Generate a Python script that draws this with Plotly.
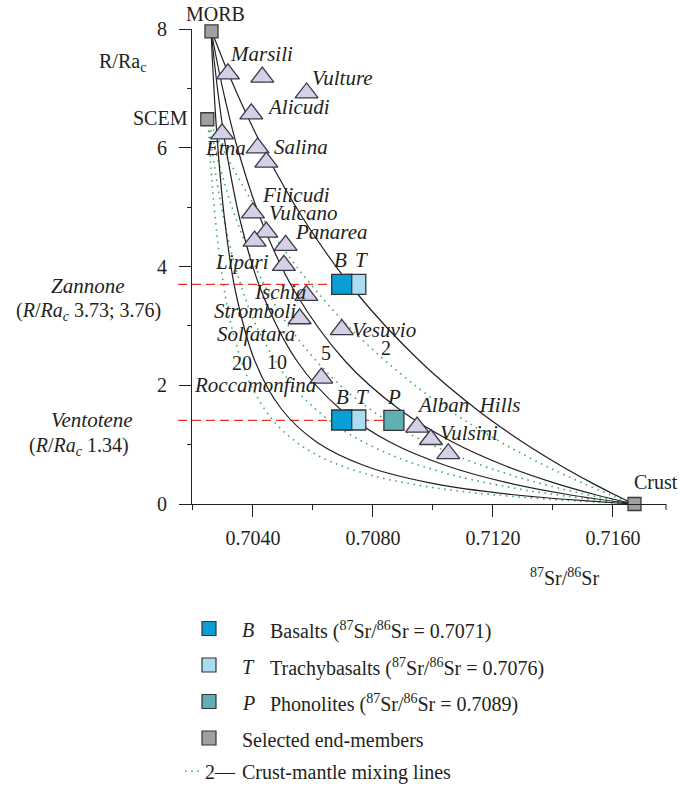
import plotly.graph_objects as go

# ---------------- data ----------------
endmember_names = ["MORB", "SCEM", "Crust"]
endmember_sr = [0.70262, 0.70248, 0.71672]
endmember_r = [7.96, 6.48, 0.0]

volcano_sr = [0.703167, 0.704313, 0.705790, 0.703947, 0.702973, 0.704157, 0.704447,
              0.704000, 0.704447, 0.704057, 0.705090, 0.705033, 0.705780, 0.705557,
              0.706963, 0.706280, 0.709473, 0.709933, 0.710513]
volcano_r = [7.244, 7.189, 6.923, 6.571, 6.234, 5.998, 5.758,
             4.902, 4.579, 4.428, 4.355, 4.019, 3.513, 3.120,
             2.938, 2.121, 1.296, 1.086, 0.847]

# Zannone (upper) and Ventotene (lower) rock samples
rock_type = ["T", "B", "T", "B", "P"]
rock_sr = [0.70743, 0.70696, 0.70743, 0.70696, 0.70870]
rock_r = [3.70, 3.70, 1.415, 1.415, 1.41]

mix_labels = ["2", "5", "10", "20"]
morb_mix_r = [8, 7.44, 6.8, 6.0, 4.8, 3.6, 2.4, 1.6, 1.04, 0.64, 0.36, 0.16, 0]
morb_mix_2 = [0.7026, 0.703032, 0.703573, 0.704332, 0.705684, 0.707383, 0.709579,
              0.711439, 0.713000, 0.714281, 0.715278, 0.716047, 0.7167]
morb_mix_5 = [0.7026, 0.702809, 0.703081, 0.703481, 0.704259, 0.705370, 0.707086,
              0.708867, 0.710670, 0.712427, 0.714011, 0.715394, 0.7167]
morb_mix_10 = [0.7026, 0.702716, 0.702868, 0.703099, 0.703563, 0.704271, 0.705480,
               0.706908, 0.708579, 0.710475, 0.712471, 0.714493, 0.7167]
morb_mix_20 = [0.7026, 0.702653, 0.702723, 0.702831, 0.703055, 0.703412, 0.704073,
               0.704950, 0.706135, 0.707748, 0.709859, 0.712613, 0.7167]
scem_mix_r = [6.5, 6.045, 5.525, 4.875, 3.9, 2.925, 1.95, 1.3, 0.845, 0.52, 0.2925, 0.13, 0]
scem_mix_2 = [0.7025, 0.702935, 0.703480, 0.704244, 0.705606, 0.707317, 0.709528,
              0.711402, 0.712974, 0.714264, 0.715268, 0.716042, 0.7167]
scem_mix_5 = [0.7025, 0.702711, 0.702984, 0.703387, 0.704171, 0.705289, 0.707018,
              0.708811, 0.710628, 0.712397, 0.713992, 0.715385, 0.7167]
scem_mix_10 = [0.7025, 0.702617, 0.702770, 0.703002, 0.703470, 0.704183, 0.705400,
               0.706839, 0.708521, 0.710431, 0.712441, 0.714478, 0.7167]
scem_mix_20 = [0.7025, 0.702553, 0.702624, 0.702733, 0.702958, 0.703318, 0.703984,
               0.704867, 0.706060, 0.707684, 0.709811, 0.712584, 0.7167]

x_ticks = [0.7040, 0.7080, 0.7120, 0.7160]
y_ticks = [0, 2, 4, 6, 8]

# ---------------- styling ----------------
FONT = "Liberation Serif, Times New Roman, serif"
FS = 20
BLACK = "#231f20"
GREEN = "#44ad6c"
RED = "#e8322e"
TRI_FILL = "#d6d0e6"
TRI_LINE = "#3b3847"
GREY = "#9fa0a4"
ROCK_COL = {"B": "#0a9fd4", "T": "#aadcf2", "P": "#5fafb3"}

W, H = 680, 786
L, R, T, B = 192, 14, 29, 282
PW, PH = W - L - R, H - T - B
XR = [0.70197, 0.70197 + PW / 30000.0]
YR = [0, 8]


def px(x):
    return (x - L) / PW


def py(y):
    return (T + PH - y) / PH


fig = go.Figure()

# mixing lines
for xs in [scem_mix_2, scem_mix_5, scem_mix_10, scem_mix_20]:
    fig.add_trace(go.Scatter(x=xs, y=scem_mix_r, mode="lines", line_shape="spline",
                             line=dict(color=GREEN, width=1.6, dash="1.6px,4.6px"),
                             hoverinfo="skip", showlegend=False))
for xs in [morb_mix_2, morb_mix_5, morb_mix_10, morb_mix_20]:
    fig.add_trace(go.Scatter(x=xs, y=morb_mix_r, mode="lines", line_shape="spline",
                             line=dict(color=BLACK, width=1.2),
                             hoverinfo="skip", showlegend=False))

# volcanoes
fig.add_trace(go.Scatter(x=volcano_sr, y=volcano_r, mode="markers",
                         marker=dict(symbol="triangle-up", size=20, color=TRI_FILL,
                                     line=dict(color=TRI_LINE, width=1.3)),
                         showlegend=False, cliponaxis=False))

# rock samples
fig.add_trace(go.Scatter(x=rock_sr, y=rock_r, mode="markers",
                         marker=dict(symbol="square", size=20,
                                     color=[ROCK_COL[t] for t in rock_type],
                                     line=dict(color="#2e3538", width=1.3)),
                         showlegend=False, cliponaxis=False))

# end-members
fig.add_trace(go.Scatter(x=endmember_sr, y=endmember_r, mode="markers",
                         marker=dict(symbol="square", size=13, color=GREY,
                                     line=dict(color="#3a3a3a", width=1.3)),
                         showlegend=False, cliponaxis=False))

shapes = []
# red dashed reference lines (Zannone, Ventotene)
for yv, xend in [(rock_r[1], rock_sr[1]), (rock_r[4], rock_sr[4])]:
    shapes.append(dict(type="line", xref="paper", yref="y", layer="below",
                       x0=px(178), x1=(xend - XR[0]) / (XR[1] - XR[0]), y0=yv, y1=yv,
                       line=dict(color=RED, width=1.3, dash="9px,5px")))
# x-axis end cap
shapes.append(dict(type="line", xref="paper", yref="paper", x0=1, x1=1,
                   y0=0, y1=py(510), line=dict(color=BLACK, width=1)))

# legend swatches
leg_rows = [630, 667, 703, 740]
leg_cols = [ROCK_COL["B"], ROCK_COL["T"], ROCK_COL["P"], GREY]
for yy, c in zip([628.5, 665, 701.5, 738], leg_cols):
    shapes.append(dict(type="rect", xref="paper", yref="paper",
                       x0=px(202), x1=px(216), y0=py(yy + 7), y1=py(yy - 7),
                       fillcolor=c, line=dict(color="#333", width=1.2)))
shapes.append(dict(type="line", xref="paper", yref="paper",
                   x0=px(185), x1=px(202), y0=py(771), y1=py(771),
                   line=dict(color=GREEN, width=1.6, dash="1.6px,4.6px")))

ann = []


def text(t, x, y, anchor="left", size=FS):
    ann.append(dict(text=t, x=px(x), y=py(y), xref="paper", yref="paper",
                    xanchor=anchor, yanchor="middle", showarrow=False,
                    font=dict(family=FONT, size=size, color=BLACK)))


volcano_labels = [("Marsili", 228, 54), ("Vulture", 310, 78), ("Alicudi", 265, 107),
                  ("Etna", 203, 148), ("Salina", 272, 147), ("Filicudi", 260, 195),
                  ("Vulcano", 267, 213), ("Panarea", 293, 232), ("Lipari", 213, 262),
                  ("Ischia", 252, 292), ("Stromboli", 212, 311), ("Vesuvio", 350, 330),
                  ("Solfatara", 215, 334), ("Roccamonfina", 192, 385),
                  ("Alban  Hills", 415, 405), ("Vulsini", 438, 433)]
for name, x, y in volcano_labels:
    text("<i>" + name + "</i>", x, y, size=21)

for lab, x, y in zip(mix_labels, [386, 325.5, 277, 242], [348, 353, 362, 363]):
    text(lab, x, y, "center")

for lab, x, y in [("B", 340.7, 260), ("T", 361.7, 260), ("B", 342.3, 397),
                  ("T", 362.3, 397), ("P", 394.3, 397)]:
    text("<i>" + lab + "</i>", x, y, "center", size=21)

text(endmember_names[0], 215, 14, "center")
text(endmember_names[1], 160, 118, "center")
text(endmember_names[2], 632, 482)
text("R/Ra<sub>c</sub>", 97, 62)
text("<sup>87</sup>Sr/<sup>86</sup>Sr", 564, 577, "center")
text("<i>Zannone</i>", 88, 286, "center", size=21)
text("(<i>R</i>/<i>Ra<sub>c</sub></i> 3.73; 3.76)", 88, 311, "center")
text("<i>Ventotene</i>", 92, 420, "center", size=21)
text("(<i>R</i>/<i>Ra<sub>c</sub></i> 1.34)", 79, 446, "center")

legend_items = [("<i>B</i>", "Basalts (<sup>87</sup>Sr/<sup>86</sup>Sr = 0.7071)"),
                ("<i>T</i>", "Trachybasalts (<sup>87</sup>Sr/<sup>86</sup>Sr = 0.7076)"),
                ("<i>P</i>", "Phonolites (<sup>87</sup>Sr/<sup>86</sup>Sr = 0.7089)")]
for (a, b), yy in zip(legend_items, leg_rows):
    text(a, 240, yy, size=20)
    text(b, 268, yy, size=20)
text("Selected end-members", 240, 740, size=20)
text("2\u2014", 203, 772, size=20)
text("Crust-mantle mixing lines", 240, 772, size=20)

fig.update_layout(
    width=W, height=H, margin=dict(l=L, r=R, t=T, b=B, autoexpand=False),
    paper_bgcolor="white", plot_bgcolor="white",
    font=dict(family=FONT, size=FS, color=BLACK),
    shapes=shapes, annotations=ann, showlegend=False,
    xaxis=dict(range=XR, showgrid=False, zeroline=False, showline=True,
               linecolor=BLACK, linewidth=1, ticks="outside", ticklen=12,
               tickcolor=BLACK, tickvals=x_ticks, tickformat=".4f",
               ticklabelstandoff=4,
               minor=dict(dtick=0.002, tick0=0.702, ticks="outside", ticklen=5,
                          tickcolor=BLACK)),
    yaxis=dict(range=YR, showgrid=False, zeroline=False, showline=True,
               linecolor=BLACK, linewidth=1, ticks="outside", ticklen=12,
               tickcolor=BLACK, tickvals=y_ticks, ticklabelstandoff=8,
               minor=dict(dtick=1, ticks="outside", ticklen=4, tickcolor=BLACK)),
)

fig.write_html("out.html")
